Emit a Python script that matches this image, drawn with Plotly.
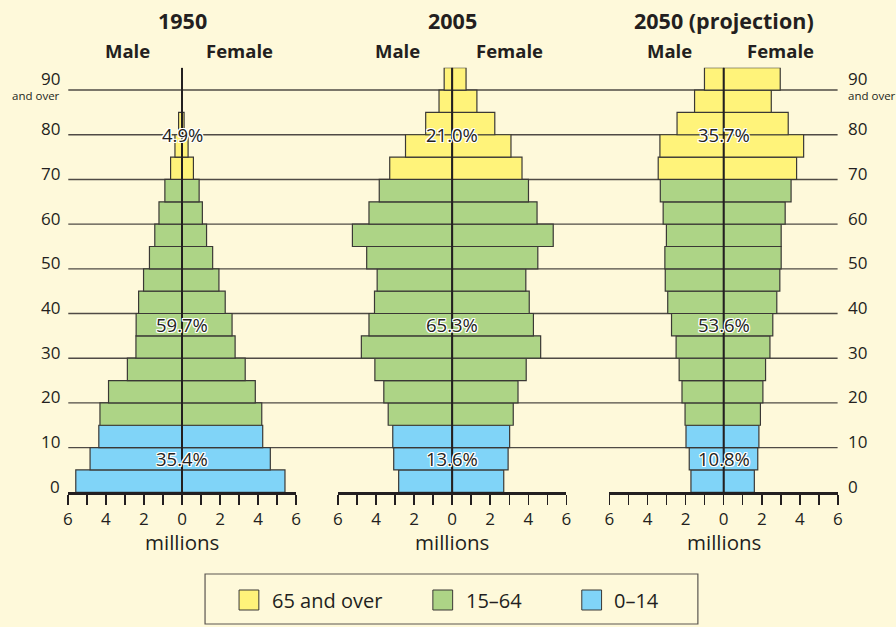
import plotly.graph_objects as go

# ---------------- data ----------------
age_start = [0, 5, 10, 15, 20, 25, 30, 35, 40, 45, 50, 55, 60, 65, 70, 75, 80, 85, 90]
age_group = (["0–14"] * 3) + (["15–64"] * 11) + (["65 and over"] * 5)

years = ["1950", "2005", "2050 (projection)"]

male_1950 = [5.58, 4.83, 4.37, 4.31, 3.86, 2.87, 2.42, 2.41, 2.28, 2.02,
             1.71, 1.43, 1.21, 0.90, 0.60, 0.37, 0.18, 0.0, 0.0]
female_1950 = [5.41, 4.64, 4.24, 4.19, 3.85, 3.32, 2.79, 2.63, 2.27, 1.94,
               1.61, 1.29, 1.07, 0.90, 0.60, 0.32, 0.11, 0.0, 0.0]

male_2005 = [2.81, 3.07, 3.12, 3.36, 3.59, 4.06, 4.77, 4.37, 4.08, 3.94,
             4.49, 5.24, 4.37, 3.83, 3.28, 2.45, 1.39, 0.69, 0.42]
female_2005 = [2.71, 2.94, 3.02, 3.21, 3.46, 3.89, 4.65, 4.27, 4.05, 3.87,
               4.50, 5.31, 4.46, 4.01, 3.67, 3.09, 2.24, 1.30, 0.73]

male_2050 = [1.72, 1.81, 1.98, 2.03, 2.19, 2.34, 2.50, 2.74, 2.94, 3.07,
             3.09, 3.01, 3.18, 3.33, 3.44, 3.35, 2.45, 1.53, 1.01]
female_2050 = [1.61, 1.79, 1.85, 1.93, 2.06, 2.20, 2.43, 2.58, 2.79, 2.95,
               3.02, 3.02, 3.23, 3.54, 3.83, 4.20, 3.39, 2.50, 2.97]

share_labels = ["65 and over", "15–64", "0–14"]
share_1950 = ["4.9%", "59.7%", "35.4%"]
share_2005 = ["21.0%", "65.3%", "13.6%"]
share_2050 = ["35.7%", "53.6%", "10.8%"]

age_ticks = [0, 10, 20, 30, 40, 50, 60, 70, 80, 90]
age_tick_text = ["0", "10", "20", "30", "40", "50", "60", "70", "80", "90"]
million_ticks = [-6, -5, -4, -3, -2, -1, 0, 1, 2, 3, 4, 5, 6]

# ---------------- styling ----------------
W, H = 896, 627
BG = "#FEF9DA"
INK = "#231F20"
GRID = "#4F4B45"
FONT = "Open Sans"
colors = {"65 and over": "#FFF37A", "15–64": "#ADD486", "0–14": "#80D4F8"}

def px(x):
    return x / W

def py(y):
    return 1 - y / H

panel_dom = [(63.5, 294.5), (336.7, 567.7), (611.3, 842.3)]
y_dom = (py(492.3), py(67.7))
AGE_TOP = 95

males = [male_1950, male_2005, male_2050]
females = [female_1950, female_2005, female_2050]
shares = [share_1950, share_2005, share_2050]
share_ages = {"65 and over": 80, "15–64": 37.5, "0–14": 7.5}

fig = go.Figure()
mid = [a + 2.5 for a in age_start]
bar_colors = [colors[g] for g in age_group]

for i in range(3):
    xa = "x" if i == 0 else f"x{i+1}"
    for vals, sign, name in ((males[i], -1, "Male"), (females[i], 1, "Female")):
        fig.add_trace(go.Bar(
            orientation="h", y=mid, x=[sign * v for v in vals], width=5,
            marker=dict(color=bar_colors, line=dict(color="#3A3835", width=1.2)),
            xaxis=xa, yaxis="y", showlegend=False, name=f"{years[i]} {name}",
            hoverinfo="skip"))

layout = dict(
    width=W, height=H, margin=dict(l=0, r=0, t=0, b=0),
    paper_bgcolor=BG, plot_bgcolor="rgba(0,0,0,0)",
    barmode="overlay", bargap=0, showlegend=False,
    font=dict(family=FONT, color=INK),
    yaxis=dict(domain=list(y_dom), range=[0, AGE_TOP], visible=False, fixedrange=True),
)
tick_text = [str(abs(v)) if v % 2 == 0 else "" for v in million_ticks]
for i, (a, b) in enumerate(panel_dom):
    key = "xaxis" if i == 0 else f"xaxis{i+1}"
    layout[key] = dict(
        domain=[px(a), px(b)], range=[-6, 6], anchor="y",
        tickvals=million_ticks, ticktext=tick_text,
        ticks="outside", ticklen=10, tickwidth=1.5, tickcolor=INK,
        showline=True, linewidth=2.2, linecolor=INK,
        showgrid=False, zeroline=False, fixedrange=True,
        tickfont=dict(size=17, color=INK, family=FONT),
    )
fig.update_layout(**layout)

shapes = []
annotations = []
# horizontal age lines
for a in age_ticks[1:]:
    shapes.append(dict(type="line", xref="paper", yref="y", x0=px(64), x1=px(842),
                       y0=a, y1=a, line=dict(color=GRID, width=1.4), layer="below"))

outline = ("-1px -1px 0 #fff, 1px -1px 0 #fff, -1px 1px 0 #fff, 1px 1px 0 #fff, "
           "0 -1px 0 #fff, 0 1px 0 #fff, -1px 0 0 #fff, 1px 0 0 #fff")

def ann(**kw):
    base = dict(showarrow=False, xanchor="center", yanchor="middle")
    base.update(kw)
    annotations.append(base)

for i in range(3):
    xr = "x" if i == 0 else f"x{i+1}"
    shapes.append(dict(type="line", xref=xr, yref="y", x0=0, x1=0, y0=0, y1=AGE_TOP,
                       line=dict(color=INK, width=2), layer="above"))
    ann(xref=xr, yref="paper", x=0, y=py(20), text=f"<b>{years[i]}</b>",
        font=dict(size=21.5, color=INK))
    ann(xref=xr, yref="paper", x=-2.86, y=py(50), text="<b>Male</b>",
        font=dict(size=18.5, color=INK))
    ann(xref=xr, yref="paper", x=3.0, y=py(50), text="<b>Female</b>",
        font=dict(size=18.5, color=INK))
    ann(xref=xr, yref="paper", x=0, y=py(542), text="millions",
        font=dict(size=20.5, color=INK))
    for lab, s in zip(share_labels, shares[i]):
        ann(xref=xr, yref="y", x=0, y=share_ages[lab], text=s,
            font=dict(size=18.5, color=INK, shadow=outline))

# age labels both sides
for a, t in zip(age_ticks, age_tick_text):
    shift = 12 if a == 90 else 6
    ann(xref="paper", yref="y", x=px(57.5), y=a, text=t, xanchor="right",
        yshift=shift, font=dict(size=17, color=INK))
    ann(xref="paper", yref="y", x=px(850), y=a, text=t, xanchor="left",
        yshift=shift, font=dict(size=17, color=INK))
ann(xref="paper", yref="y", x=px(57.5), y=90, text="and over", xanchor="right",
    yshift=-5, font=dict(size=11.5, color=INK))
ann(xref="paper", yref="y", x=px(850), y=90, text="and over", xanchor="left",
    yshift=-5, font=dict(size=11.5, color=INK))

# legend box
shapes.append(dict(type="rect", xref="paper", yref="paper", x0=px(202.3), x1=px(700.7),
                   y0=py(624), y1=py(574), line=dict(color="#5A5650", width=1.2),
                   fillcolor="rgba(0,0,0,0)"))
legend_x = [236.7, 432.7, 583.3]
for lab, lx in zip(share_labels, legend_x):
    shapes.append(dict(type="rect", xref="paper", yref="paper", x0=px(lx), x1=px(lx + 20),
                       y0=py(610), y1=py(590), fillcolor=colors[lab],
                       line=dict(color="#3A3835", width=1)))
    ann(xref="paper", yref="paper", x=px(lx + 31), y=py(600), text=lab,
        xanchor="left", font=dict(size=20, color=INK))

fig.update_layout(shapes=shapes, annotations=annotations)
fig.write_html(
    "out.html",
    config={"displayModeBar": False, "staticPlot": True},
    post_script="document.body.style.margin='0';document.body.style.padding='0';"
                "document.body.style.overflow='hidden';",
)
